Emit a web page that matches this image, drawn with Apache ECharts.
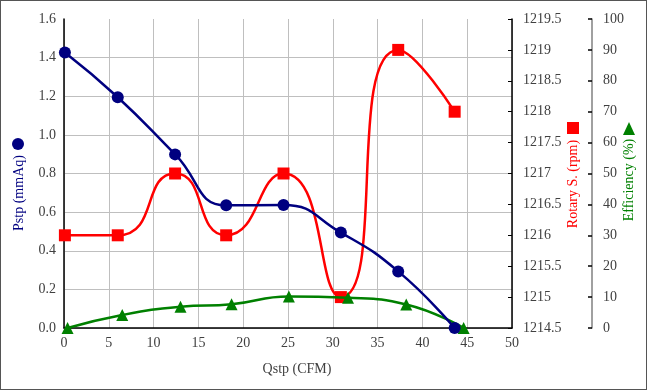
<!DOCTYPE html>
<html>
<head>
<meta charset="utf-8">
<script src="https://cdn.jsdelivr.net/npm/echarts@6/dist/echarts.min.js"></script>
<style>
html,body{margin:0;padding:0;background:#fff;}
#c{width:645px;height:388px;border:1px solid #555;}
</style>
</head>
<body>
<div id="c"></div>
<script>
// ---- data ----
const qFlow = [0.1, 6.0, 12.4, 18.1, 24.5, 30.9, 37.3, 43.6];
const pstp = [1.427, 1.195, 0.899, 0.635, 0.637, 0.494, 0.293, 0.0];
const rpm = [1216, 1216, 1217, 1216, 1217, 1215, 1219, 1218];
const qEff = [0.4, 6.5, 13.0, 18.7, 25.1, 31.7, 38.2, 44.6];
const eff = [0, 4.2, 6.9, 7.7, 10.2, 9.8, 7.6, 0];
const xTitle = 'Qstp (CFM)';
const yTitle = 'Pstp (mmAq)';
const rpmTitle = 'Rotary S. (rpm)';
const effTitle = 'Efficiency (%)';

const FONT = '"Liberation Serif","Times New Roman",serif';
const TXT = '#404040';
const chart = echarts.init(document.getElementById('c'), null, {renderer:'canvas'});
const pairs = (xs, ys) => xs.map((x, i) => [x, ys[i]]);

chart.setOption({
  animation: false,
  grid: {left: 63, right: 134, top: 18, bottom: 61, show: false},
  xAxis: {
    type: 'value', min: 0, max: 50, interval: 5,
    axisLine: {show: true, lineStyle: {color: '#000', width: 1.5}},
    axisTick: {show: false},
    axisLabel: {color: TXT, fontFamily: FONT, fontSize: 14, margin: 8},
    splitLine: {show: true, lineStyle: {color: '#bfbfbf', width: 1}}
  },
  yAxis: [
    {
      type: 'value', min: 0, max: 1.6, interval: 0.2, position: 'left',
      axisLine: {show: true, lineStyle: {color: '#000', width: 1.5}},
      axisTick: {show: false},
      axisLabel: {color: TXT, fontFamily: FONT, fontSize: 14, margin: 8,
        formatter: v => v.toFixed(1)},
      splitLine: {show: true, showMaxLine: false, lineStyle: {color: '#bfbfbf', width: 1}}
    },
    {
      type: 'value', min: 1214.5, max: 1219.5, interval: 0.5, position: 'right',
      axisLine: {show: true, lineStyle: {color: '#000', width: 1.5}},
      axisTick: {show: true, inside: true, length: 4, lineStyle: {color: '#000'}},
      axisLabel: {color: TXT, fontFamily: FONT, fontSize: 14, margin: 11,
        formatter: v => String(Math.round(v * 10) / 10)},
      splitLine: {show: false}
    },
    {
      type: 'value', min: 0, max: 100, interval: 10, position: 'right', offset: 80,
      axisLine: {show: true, lineStyle: {color: '#808080', width: 1.5}},
      axisTick: {show: true, inside: true, length: 4, lineStyle: {color: '#000', width: 1.5}},
      axisLabel: {color: TXT, fontFamily: FONT, fontSize: 14, margin: 11},
      splitLine: {show: false}
    }
  ],
  series: [
    {
      name: rpmTitle, type: 'line', yAxisIndex: 1, data: pairs(qFlow, rpm),
      smooth: 0.6, symbol: 'rect', symbolSize: 12,
      lineStyle: {color: '#ff0000', width: 2.5}, itemStyle: {color: '#ff0000'}, z: 2
    },
    {
      name: effTitle, type: 'line', yAxisIndex: 2, data: pairs(qEff, eff),
      smooth: 0.5, symbol: 'triangle', symbolSize: 12,
      lineStyle: {color: '#008000', width: 2.5}, itemStyle: {color: '#008000'}, z: 3
    },
    {
      name: yTitle, type: 'line', yAxisIndex: 0, data: pairs(qFlow, pstp),
      smooth: 0.5, symbol: 'circle', symbolSize: 12,
      lineStyle: {color: '#000080', width: 2.5}, itemStyle: {color: '#000080'}, z: 4
    }
  ],
  graphic: [
    {type: 'text', x: 296, y: 368, style: {text: xTitle, fill: TXT, font: '14px ' + FONT, textAlign: 'center', textVerticalAlign: 'middle'}},
    {type: 'text', x: 18, y: 192, rotation: Math.PI / 2, style: {text: yTitle, fill: '#000080', font: '14px ' + FONT, textAlign: 'center', textVerticalAlign: 'middle'}},
    {type: 'circle', shape: {cx: 17, cy: 143, r: 6}, style: {fill: '#000080'}},
    {type: 'text', x: 572, y: 183, rotation: Math.PI / 2, style: {text: rpmTitle, fill: '#ff0000', font: '14px ' + FONT, textAlign: 'center', textVerticalAlign: 'middle'}},
    {type: 'rect', shape: {x: 566, y: 121, width: 12, height: 12}, style: {fill: '#ff0000'}},
    {type: 'text', x: 628, y: 179, rotation: Math.PI / 2, style: {text: effTitle, fill: '#008000', font: '14px ' + FONT, textAlign: 'center', textVerticalAlign: 'middle'}},
    {type: 'polygon', shape: {points: [[628, 121], [622, 134], [634, 134]]}, style: {fill: '#008000'}}
  ]
});
</script>
</body>
</html>
